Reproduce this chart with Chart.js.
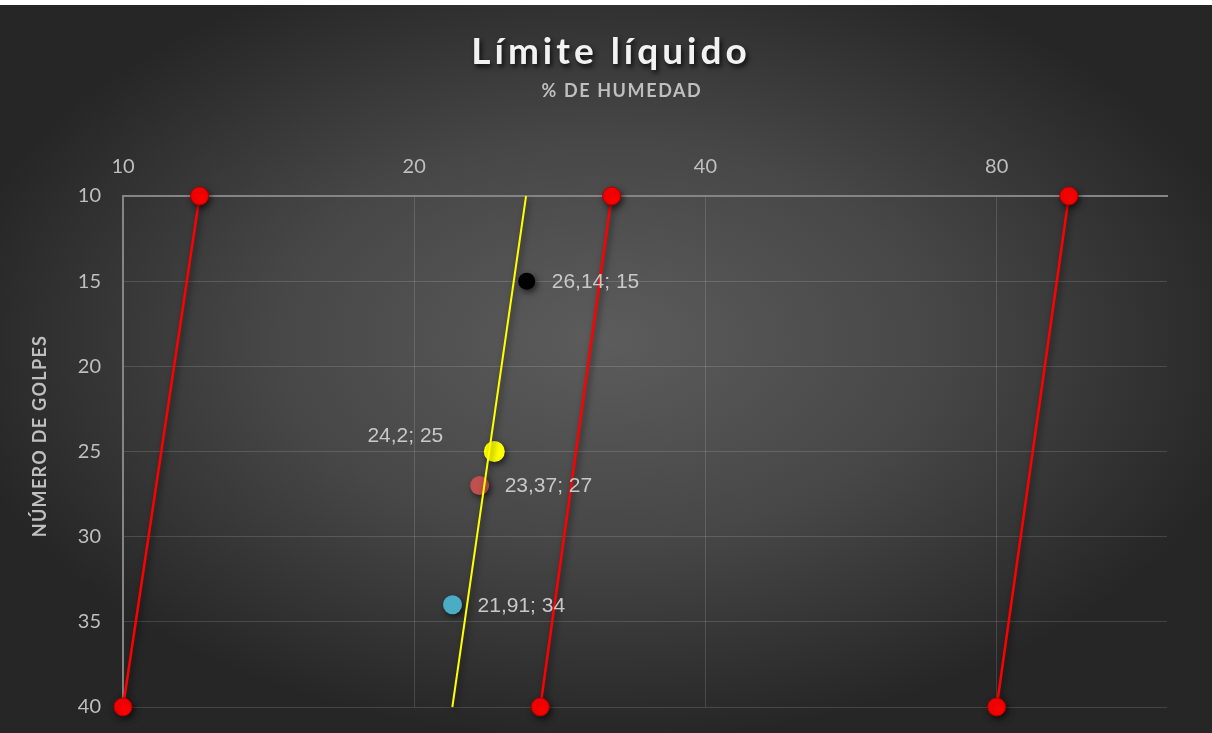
<!DOCTYPE html>
<html>
<head>
<meta charset="utf-8">
<script src="https://cdn.jsdelivr.net/npm/chart.js@4.4.1/dist/chart.umd.min.js"></script>
<style>
  html, body { margin: 0; padding: 0; background: #ffffff; overflow: hidden; }
  #wrap { position: absolute; left: 0; top: 5px; width: 1212px; height: 736px; }
</style>
</head>
<body>
<div id="wrap"><canvas id="chart"></canvas></div>
<script>
// Axis ticks
const humidityTicks = [10, 20, 40, 80];
const blowTicksStep = 5;

// Reference lines: humidity at 40 blows and at 10 blows
const guideBlows = [40, 10];
const guideLineA = [10, 12];
const guideLineB = [27, 32];
const guideLineC = [80, 95];

// Flow line through the samples (humidity at 40 and at 10 blows)
const flowLineHumidity = [21.9, 26.1];

// Samples: humidity (%) and number of blows
const sampleHumidity = [26.14, 24.2, 23.37, 21.91];
const sampleBlows = [15, 25, 27, 34];

const labelFont = "'Liberation Sans', Arial, sans-serif";
const tickFont = "Lato, 'Open Sans', sans-serif";

function pairs(xs, ys) { return xs.map((x, i) => ({ x: x, y: ys[i] })); }

const redLineStyle = {
  showLine: true,
  clip: false,
  borderColor: '#ff0000',
  borderWidth: 2.5,
  backgroundColor: '#ff0000',
  pointBackgroundColor: '#ff0000',
  pointBorderColor: '#b00000',
  pointBorderWidth: 1,
  pointRadius: 9,
  pointHoverRadius: 9
};

const sampleStyles = [
  { color: '#000000', radius: 8.5, side: 'right' },
  { color: '#ffff00', radius: 10.5, side: 'left' },
  { color: '#c0504d', radius: 9.5, side: 'right' },
  { color: '#4bacc6', radius: 9.5, side: 'right' }
];

const datasets = [
  Object.assign({ label: 'A', data: pairs(guideLineA, guideBlows) }, redLineStyle),
  Object.assign({ label: 'B', data: pairs(guideLineB, guideBlows) }, redLineStyle),
  Object.assign({ label: 'C', data: pairs(guideLineC, guideBlows) }, redLineStyle),
  {
    label: 'flow',
    data: pairs(flowLineHumidity, guideBlows),
    showLine: true,
    clip: false,
    borderColor: '#ffff00',
    borderWidth: 2,
    pointRadius: 0,
    pointHoverRadius: 0
  }
];
sampleHumidity.forEach((h, i) => {
  const s = sampleStyles[i];
  datasets.push({
    label: 'sample' + i,
    data: [{ x: h, y: sampleBlows[i] }],
    clip: false,
    pointRadius: s.radius,
    pointHoverRadius: s.radius,
    pointBackgroundColor: s.color,
    pointBorderColor: s.color,
    pointBorderWidth: 0,
    isSample: true,
    labelSide: s.side
  });
});

// Radial background
const backgroundPlugin = {
  id: 'bg',
  beforeDraw(chart) {
    const ctx = chart.ctx;
    const w = chart.width, h = chart.height;
    ctx.save();
    ctx.fillStyle = '#262626';
    ctx.fillRect(0, 0, w, h);
    ctx.translate(606, 335);
    ctx.scale(1.65, 1);
    const g = ctx.createRadialGradient(0, 0, 0, 0, 0, 400);
    g.addColorStop(0, '#5c5c5c');
    g.addColorStop(0.5, '#474747');
    g.addColorStop(1, '#262626');
    ctx.fillStyle = g;
    ctx.fillRect(-606 / 1.65 - 10, -340, w / 1.65 + 20, h);
    ctx.restore();
  }
};

// Soft shadow under lines and markers
const shadowPlugin = {
  id: 'shadow',
  beforeDatasetsDraw(chart) {
    const ctx = chart.ctx;
    ctx.save();
    ctx.shadowColor = 'rgba(0,0,0,0.6)';
    ctx.shadowBlur = 6;
    ctx.shadowOffsetX = 2;
    ctx.shadowOffsetY = 3;
  },
  afterDatasetsDraw(chart) {
    chart.ctx.restore();
  }
};

// Titles and value labels
const textPlugin = {
  id: 'texts',
  afterDraw(chart) {
    const ctx = chart.ctx;
    ctx.save();
    // main title
    ctx.textAlign = 'center';
    ctx.textBaseline = 'middle';
    ctx.font = "bold 37px Lato, 'Open Sans', sans-serif";
    ctx.letterSpacing = '4px';
    ctx.shadowColor = 'rgba(0,0,0,0.8)';
    ctx.shadowBlur = 5;
    ctx.shadowOffsetX = 2;
    ctx.shadowOffsetY = 3;
    ctx.fillStyle = '#f2f2f2';
    ctx.fillText('Límite líquido', 611, 47);
    ctx.shadowColor = 'transparent';
    // top axis title
    ctx.font = "bold 18px Lato, 'Open Sans', sans-serif";
    ctx.letterSpacing = '1.6px';
    ctx.fillStyle = '#bfbfbf';
    ctx.fillText('% DE HUMEDAD', 622, 86);
    // left axis title
    ctx.save();
    ctx.translate(40, 431);
    ctx.rotate(-Math.PI / 2);
    ctx.letterSpacing = '1.3px';
    ctx.fillText('NÚMERO DE GOLPES', 0, 0);
    ctx.restore();
    ctx.letterSpacing = '0px';
    // value labels
    ctx.font = '21px ' + labelFont;
    ctx.fillStyle = '#c8c8c8';
    chart.data.datasets.forEach((ds, i) => {
      if (!ds.isSample) return;
      const pt = chart.getDatasetMeta(i).data[0];
      const d = ds.data[0];
      const text = String(d.x).replace('.', ',') + '; ' + d.y;
      if (ds.labelSide === 'left') {
        ctx.textAlign = 'right';
        ctx.fillText(text, pt.x - 51, pt.y - 15);
      } else {
        ctx.textAlign = 'left';
        ctx.fillText(text, pt.x + 25, pt.y + 1);
      }
    });
    ctx.restore();
  }
};

new Chart(document.getElementById('chart'), {
  type: 'scatter',
  data: { datasets: datasets },
  plugins: [backgroundPlugin, shadowPlugin, textPlugin],
  options: {
    responsive: true,
    maintainAspectRatio: false,
    animation: false,
    events: [],
    layout: { padding: { left: 0, right: 45, top: 0, bottom: 19 } },
    plugins: {
      legend: { display: false },
      tooltip: { enabled: false },
      title: { display: false }
    },
    scales: {
      x: {
        type: 'logarithmic',
        position: 'top',
        min: 10,
        max: 120,
        afterBuildTicks(scale) {
          scale.ticks = humidityTicks.map(v => ({ value: v }));
        },
        afterFit(scale) { scale.height = 191; },
        ticks: {
          callback: (v) => String(v),
          color: '#bfbfbf',
          font: { family: tickFont, size: 20 },
          padding: 17,
          maxRotation: 0,
          autoSkip: false
        },
        grid: { color: 'rgba(255,255,255,0.14)', lineWidth: 1, drawTicks: false },
        border: { color: '#858585', width: 2 }
      },
      y: {
        type: 'linear',
        reverse: true,
        min: 10,
        max: 40,
        afterFit(scale) { scale.width = 123; },
        ticks: {
          stepSize: blowTicksStep,
          color: '#bfbfbf',
          font: { family: tickFont, size: 20 },
          padding: 22
        },
        grid: { color: 'rgba(255,255,255,0.14)', lineWidth: 1, drawTicks: false },
        border: { color: '#858585', width: 2 }
      }
    }
  }
});
</script>
</body>
</html>
